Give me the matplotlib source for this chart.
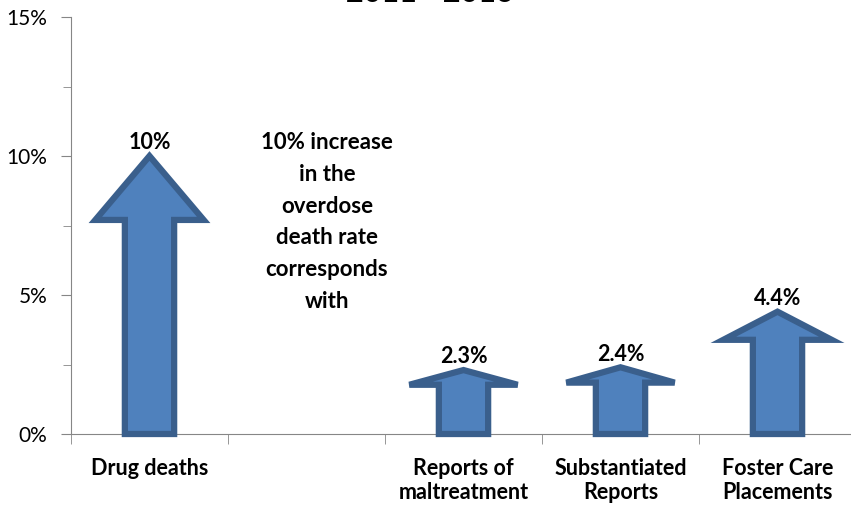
import numpy as np
import matplotlib.pyplot as plt
from matplotlib.patches import Polygon

plt.rcParams['font.family'] = ['Lato', 'DejaVu Sans']

# data
categories = ['Drug deaths', '', 'Reports of\nmaltreatment', 'Substantiated\nReports', 'Foster Care\nPlacements']
values = [10.0, None, 2.3, 2.4, 4.4]
value_labels = ['10%', '', '2.3%', '2.4%', '4.4%']
yticks = [0, 5, 10, 15]
ytick_labels = ['0%', '5%', '10%', '15%']
note = '10% increase\nin the\noverdose\ndeath rate\ncorresponds\nwith'
title = '2011 - 2016'

fill_c = '#4F81BD'
edge_c = '#3A5F8C'
axis_c = '#868686'

W, H = 851, 507
fig = plt.figure(figsize=(W / 100, H / 100), dpi=100)
ax = fig.add_axes([71 / W, (H - 434) / H, 785 / W, 417 / H])

ax.set_xlim(-0.5, 4.5)
ax.set_ylim(0, 15)


def up_arrow(x, v, shaft=0.157, head=0.345, frac=0.23):
    """Block arrow polygon going from 0 up to v at category x."""
    hb = v * (1 - frac)
    pts = [(x - shaft, 0), (x - shaft, hb), (x - head, hb), (x, v),
           (x + head, hb), (x + shaft, hb), (x + shaft, 0)]
    return Polygon(pts, closed=True, facecolor=fill_c, edgecolor=edge_c,
                   linewidth=4.5, joinstyle='miter', clip_on=False, zorder=3)


for i, (v, lab) in enumerate(zip(values, value_labels)):
    if v is None:
        continue
    ax.add_patch(up_arrow(i, v))
    ax.annotate(lab, (i, v), xytext=(0, 2), textcoords='offset points',
                ha='center', va='bottom', fontsize=15.5, fontweight='bold')

ax.text(1.13, 10.85, note, ha='center', va='top', fontsize=16,
        fontweight='bold', linespacing=1.63)

# title sits mostly above the top edge, as in the source image
fig.text(430 / W, 1 - 2 / H, title, ha='center', va='baseline',
         fontsize=22, fontweight='bold')

# axes styling
for s in ['top', 'right']:
    ax.spines[s].set_visible(False)
ax.spines['left'].set_color(axis_c)
ax.spines['bottom'].set_color(axis_c)

ax.set_yticks(yticks)
ax.set_yticklabels(ytick_labels, fontsize=15)
ax.set_yticks(np.arange(2.5, 15, 5), minor=True)
ax.tick_params(axis='y', which='major', length=7, color=axis_c, pad=10)
ax.tick_params(axis='y', which='minor', length=6, color=axis_c)

ax.set_xticks(range(len(categories)))
ax.set_xticklabels(categories, fontsize=15.5, fontweight='bold', linespacing=1.2)
ax.set_xticks(np.arange(-0.5, 4.6, 1), minor=True)
ax.tick_params(axis='x', which='major', length=0, pad=17)
ax.tick_params(axis='x', which='minor', length=7, color=axis_c)

fig.savefig('out.png', dpi=100)
